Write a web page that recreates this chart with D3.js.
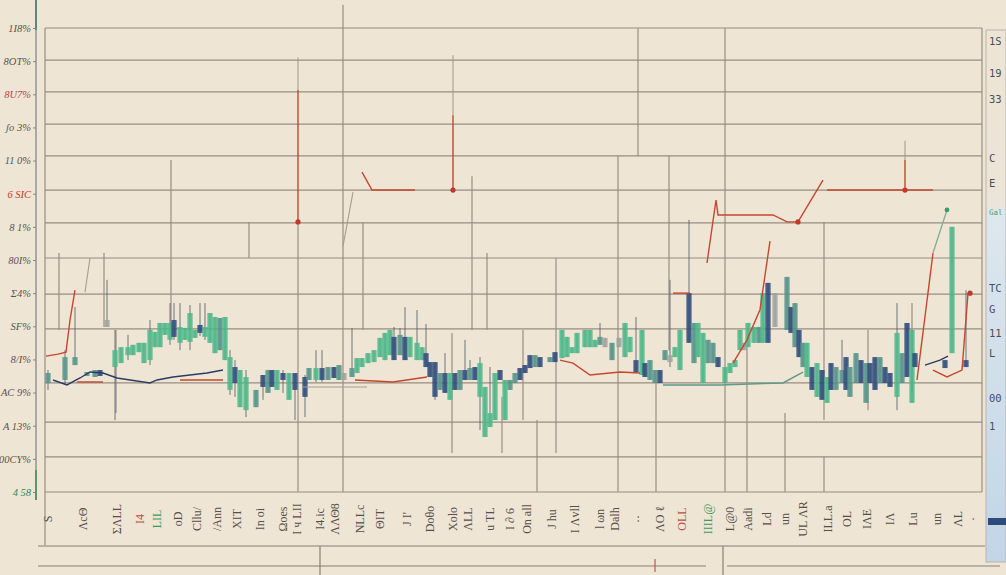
<!DOCTYPE html>
<html><head><meta charset="utf-8">
<script src="https://cdn.jsdelivr.net/npm/d3@7"></script>
<style>html,body{margin:0;padding:0;background:#efe5d4;overflow:hidden}</style>
</head><body><svg id="c" width="1006" height="575"></svg>
<script>
// ---------------- data ----------------
// y tick labels, top to bottom
const yTickLabels = ["1I8%","8OT%","8U7%","ʃo 3%","11 0%","6 SIC","8 1%","80I%","Σ4%","SF%","8/I%","AC 9%","A 13%","00CY%","4 58"];
const yTickValues = [0,10,20,30,40,50,60,70,80,90,100,110,120,130,140];
// horizontal gridlines (value units)
const gridValues = [0,10.6,21.1,32.9,49.2,59.7,70.6,81.2,91.1,101.4,111.0,120.7,130.3,140];
// partial vertical rules: [day, top value, bottom value]
const vRules = [
 [2.8,72.1,48.9],[11.8,72.1,49.8],[14.2,48.9,23.8],[25.2,100.2,49.2],[40.8,81.5,70.6],
 [50.6,81.5,0],[59.6,147,0],[63.6,81.5,48.9],[81.4,48.0,11.8],[85.4,95.3,48.9],
 [88.4,72.1,48.9],[91.4,28.7,11.8],[95.6,48.9,21.7],[98.4,21.7,0],[102.2,70.6,11.8],
 [114.6,101.4,0],[118.6,140,101.4],[122.2,32.9,0],[124.8,101.4,42.8],[136,140,0],
 [140.4,43.7,0],[148,23.8,0],[155.8,81.5,21.7],[155.8,10.6,0],[164.6,48.9,24.7],[173.4,57.0,30.8]
];
// candles: [day, top, bottom, high, low, tone]
const candles = [
[0.6,35.9,32.9,36.8,30.8,'s'],[4,40.7,33.8,42.8,32.3,'s'],[6,40.7,38.3,55.8,38.3,'s'],
[8.4,36.2,35.0,36.2,35.0,'s'],[10,36.8,34.7,36.8,34.7,'s'],[11,36.8,35.0,36.8,35.0,'b'],
[12.4,51.9,49.8,64.0,49.8,'k'],[14,42.8,37.7,48.9,21.7,'g'],[15.2,43.7,38.9,43.7,38.9,'g'],
[16.6,43.7,41.3,47.4,39.8,'g'],[17.6,44.4,41.3,44.4,41.3,'g'],[18.8,45.0,42.2,45.0,42.2,'g'],
[19.8,45.0,38.9,45.0,38.9,'g'],[21,48.9,39.8,51.9,38.3,'g'],[22,48.3,43.7,48.3,43.7,'g'],
[23,51.0,43.7,51.0,43.7,'g'],[24,51.0,47.4,51.0,47.4,'g'],[25,51.0,45.9,57.0,44.4,'g'],
[25.8,51.9,46.8,57.0,45.9,'b'],[27,49.8,45.0,57.0,42.8,'g'],[28,49.5,45.9,49.5,45.9,'g'],
[29,54.0,45.3,56.4,42.8,'g'],[30,48.9,46.5,48.9,46.5,'g'],[31,50.4,48.0,57.0,47.1,'b'],
[32,49.8,46.8,57.0,45.9,'g'],[33,54.0,45.0,54.0,45.0,'g'],[34,52.8,41.9,52.8,41.9,'g'],
[35,52.5,42.8,52.5,42.8,'s'],[36,52.8,39.8,52.8,39.8,'g'],[37,40.7,30.8,42.8,29.3,'g'],
[38,37.7,32.9,39.8,28.7,'b'],[39,36.8,25.6,36.8,25.6,'g'],[40.2,34.7,24.7,36.8,22.6,'g'],
[42.2,30.8,25.6,30.8,25.6,'s'],[43.6,35.3,31.7,35.3,27.8,'b'],[44.6,36.8,29.9,36.8,29.9,'s'],
[45.4,36.8,31.7,36.8,31.7,'b'],[46.4,36.8,30.8,36.8,30.8,'g'],[47.6,35.9,33.8,36.8,29.9,'b'],
[48.8,35.9,27.8,35.9,27.8,'g'],[50,35.9,30.8,35.9,21.7,'b'],[52,34.7,28.7,35.3,22.6,'b'],
[52.8,37.4,33.8,37.4,33.8,'s'],[54.2,37.4,33.8,42.8,33.2,'g'],[55.4,37.4,33.8,42.8,33.2,'b'],
[56.6,37.7,33.8,37.7,33.8,'s'],[57.8,37.7,34.4,37.7,34.4,'b'],[58.8,38.3,33.8,38.3,33.8,'s'],
[59.8,35.9,33.8,35.9,33.8,'k'],[61.4,37.4,34.7,49.5,34.7,'s'],[62.4,40.4,35.9,40.4,35.9,'g'],
[63.4,40.4,37.7,40.4,37.7,'g'],[64.6,41.9,38.9,41.9,38.9,'g'],[65.8,42.8,39.2,42.8,39.2,'g'],
[67,46.5,40.7,46.5,40.7,'g'],[68,48.0,39.8,48.0,39.8,'g'],[69,48.9,41.3,48.9,41.3,'g'],
[69.8,46.8,39.8,49.8,39.8,'b'],[71,47.4,41.3,49.5,41.3,'s'],[72,46.8,39.8,55.8,39.8,'b'],
[73,46.8,40.7,46.8,40.7,'g'],[74.4,45.0,39.8,54.9,39.8,'g'],[75.4,43.7,39.8,43.7,39.8,'g'],
[76.2,41.9,37.7,50.7,37.7,'b'],[77,39.2,34.7,39.2,34.7,'b'],[78,39.2,28.7,39.2,27.8,'b'],
[79,35.9,30.8,35.9,30.8,'s'],[80,35.9,29.9,41.9,29.9,'b'],[81,35.9,27.8,35.9,27.8,'g'],
[82,35.9,30.8,35.9,30.8,'b'],[83,36.8,30.8,36.8,30.8,'s'],[84,36.8,33.8,45.9,33.8,'b'],
[85,37.4,33.8,39.8,33.8,'s'],[86,37.7,33.8,37.7,33.8,'b'],[87,38.9,28.7,40.7,18.7,'g'],
[88,31.7,16.6,31.7,16.6,'g'],[89,23.8,19.6,37.7,19.6,'g'],[90,35.9,21.7,35.9,21.7,'g'],
[91,36.8,33.8,36.8,33.8,'b'],[92,33.8,21.7,33.8,21.7,'g'],[93,33.8,30.8,33.8,30.8,'s'],
[94,35.9,32.9,35.9,32.9,'s'],[95,37.4,33.8,37.4,33.8,'b'],[96,38.3,35.9,38.3,35.9,'b'],
[97,41.3,37.4,41.3,37.4,'b'],[98,41.3,37.7,41.3,37.7,'s'],[99,40.7,37.7,40.7,37.7,'b'],
[101,40.7,39.2,40.7,39.2,'s'],[102,42.2,39.2,42.2,39.2,'b'],[103.4,48.9,40.4,48.9,40.4,'g'],
[104.4,46.8,40.7,46.8,40.7,'g'],[105.4,43.7,41.9,43.7,41.9,'g'],[106.4,48.0,41.9,48.0,41.9,'g'],
[108,48.9,43.7,48.9,43.7,'g'],[109,48.9,43.7,48.9,43.7,'g'],[110,45.9,43.7,45.9,43.7,'g'],
[111,46.8,44.4,51.0,44.4,'s'],[112,46.5,43.7,46.5,43.7,'k'],[113.4,45.0,39.8,45.0,39.8,'s'],
[114.8,46.5,43.7,46.5,43.7,'k'],[116,51.0,40.7,51.0,40.7,'g'],[117,46.8,42.2,46.8,42.2,'g'],
[118.2,39.8,36.2,52.8,36.2,'b'],[119.4,48.9,35.3,48.9,35.3,'g'],[120,38.9,34.7,38.9,34.7,'b'],
[121,39.8,33.8,39.8,33.8,'s'],[122,36.8,32.9,36.8,32.9,'s'],[123,36.8,32.9,36.8,32.9,'b'],
[124,42.8,39.8,42.8,39.8,'s'],[125,41.3,39.2,64.0,37.7,'k'],[126,43.7,40.7,43.7,40.7,'g'],
[127,48.9,36.8,48.9,36.8,'g'],[128.8,60.0,45.0,82.1,45.0,'b'],[129.8,51.0,38.9,51.0,38.9,'s'],
[130.6,51.0,40.7,51.0,40.7,'g'],[131.6,48.0,32.9,48.0,32.9,'g'],[132.6,45.9,38.9,45.9,38.9,'s'],
[133.6,45.0,38.9,45.0,38.9,'s'],[134.6,40.7,37.7,40.7,37.7,'b'],[136,37.7,32.9,37.7,32.9,'g'],
[137,38.9,35.9,38.9,35.9,'g'],[138,39.8,37.7,39.8,37.7,'g'],[139,48.9,42.8,48.9,42.8,'g'],
[139.8,45.0,42.8,45.0,42.8,'k'],[140.6,51.0,43.7,51.0,43.7,'g'],[141.8,49.8,45.0,49.8,45.0,'g'],
[142.8,49.8,45.0,49.8,45.0,'s'],[143.6,60.0,45.0,60.0,45.0,'g'],[144.6,63.1,45.0,63.1,45.0,'b'],
[146,60.0,49.8,60.0,49.8,'k'],[148.4,64.9,48.9,64.9,48.9,'s'],[149.2,55.8,48.0,55.8,48.0,'b'],
[150,57.0,43.7,57.0,43.7,'s'],[150.8,48.9,40.7,48.9,40.7,'b'],[151.6,45.0,37.7,45.0,37.7,'s'],
[152.4,45.0,34.7,45.0,34.7,'g'],[153.4,37.7,30.8,37.7,30.8,'b'],[154.4,38.9,28.7,38.9,28.7,'g'],
[155.4,36.8,27.8,36.8,27.8,'b'],[156.4,34.7,26.9,34.7,26.9,'g'],[157.2,38.9,30.8,38.9,30.8,'b'],
[158.2,37.7,30.8,37.7,30.8,'s'],[159.4,36.8,32.9,45.9,32.9,'s'],[160.2,40.7,30.8,40.7,30.8,'b'],
[161,37.7,28.7,37.7,28.7,'s'],[162.2,41.9,32.9,41.9,32.9,'s'],[163.2,39.8,32.9,39.8,32.9,'b'],
[164.2,38.9,26.9,38.9,26.9,'s'],[165,38.9,32.9,38.9,32.9,'b'],[166,40.7,30.8,40.7,30.8,'b'],
[167,40.7,32.9,40.7,32.9,'s'],[168,37.7,32.9,37.7,32.9,'b'],[169,35.9,31.7,35.9,31.7,'b'],
[170.4,48.0,28.7,57.0,24.7,'g'],[171.4,41.9,32.9,41.9,32.9,'s'],[172.4,51.0,34.7,51.0,34.7,'b'],
[173.4,48.9,26.9,48.9,26.9,'g'],[174,41.9,37.7,41.9,37.7,'b'],[180,39.8,37.4,39.8,37.4,'b'],
[181.4,80.0,41.9,80.0,41.9,'g'],[184.2,39.8,37.7,60.9,37.7,'b']
];
// overlay lines: [day, value]
const redLines = [
 [[0.2,41.0],[2.6,41.6],[4.2,42.2],[5,51.9],[6,60.9]],
 [[6.4,33.2],[11.6,33.2]],
 [[27,33.8],[35.6,33.8]],
 [[62,33.8],[69.6,33.2],[76.4,34.7]],
 [[103,39.8],[105.6,38.9],[109,35.3],[115,36.2],[119,35.9]],
 [[50.6,121.3],[50.6,81.5]],
 [[81.6,113.7],[81.6,91.1]],
 [[63.4,96.5],[65.4,91.1],[74,91.1]],
 [[132.4,69.1],[134.2,88.1],[134.6,83.6],[145.6,83.6],[148.4,81.5],[150.6,81.5],[155.6,94.1]],
 [[156.4,91.1],[177.6,91.1]],
 [[172,100.2],[172,91.1]],
 [[174.4,33.8],[177.6,72.1]],
 [[177.6,36.8],[180.4,34.7],[183.4,36.8],[184.6,60.0]],
 [[125.6,60.0],[129,60.0]],
 [[137.6,38.9],[140.4,45.9],[143,55.0],[145,75.7]]
];
const faintLines = [
 [[8,60.3],[9,70.6]],
 [[59.6,74.2],[61.6,90.5]],
 [[81.6,131.8],[81.6,113.7]],
 [[50.6,131.1],[50.6,121.3]],
 [[51.6,31.7],[64.4,31.7]],
 [[172,106.0],[172,100.2]]
];
const greenLine = [[177.6,72.1],[180.4,85.1]];
const navyLines = [
 [[1.6,33.8],[4.4,32.3],[7,34.4],[9,36.2],[11.6,35.9],[14.4,34.4],[21,32.9],[22.4,33.8],[25.6,34.7],[32.4,35.9],[35.6,36.8]],
 [[176,38.3],[179,39.8],[180.6,41.0]]
];
const tealLine = [[123.6,32.3],[135,32.3],[147.6,32.9],[151.6,36.2]];
const redDots = [[50.6,81.5],[81.6,91.1],[150.6,81.5],[172,91.1],[185,60.0]];
const greenDots = [[180.4,85.1]];
// x-axis (rotated) labels
const xLabelDays = [0.6,7.6,14.4,19,22.4,26.6,30.4,34.4,38.4,43,47.6,50.4,55,58,63,67,72.4,77,81.6,84.6,89,93,96.4,101.4,106,111,114,118.6,123,127.4,132.6,137,140.6,144.4,148,151.6,156.6,160.4,164.4,169,173.6,178.4,182.6,185.6];
const xLabels = ["S","ΛcΘ","ΣΛLL","I4","LIL","oD","Cllu/","/Ann","XIT","In oi","Ωoes","I ч LII","I4.ic","ΛΛΘ8","NLLc","ΘIT","J I'","Doθo","Xolo","ΛLL","u TL","I ∂ 6","On all","J hu","I Λvll","l ωn","Dalh","··","ΛO ℓ","OLL","IIIL@","L@0","Aadi","Ld","un","UL ΛR","ILL.a","OL","IΛE","IΛ","Lu","un","ΛL","·"];
// side panel texts
const sideTexts = ["1S","19","33","C","E","Gal","TC","G","11","L","00","1"];

// ---------------- styles ----------------
const tone = {g:"#4cb98b", s:"#55958b", b:"#2c4a7c", k:"#9fa59e"};
const yAccent = {2:"#b0484a", 5:"#c0392b", 14:"#2e8a57"};
const xAccent = {3:"#b5524a", 4:"#3f9a5f", 30:"#3f9a5f", 29:"#b5524a"};
const sideY = [45,77,103,162,187,215,292,313,337,357,402,430];

// ---------------- drawing ----------------
const svg = d3.select('#c');
const x = d3.scaleLinear().domain([0,185]).range([45,970]);
const y = d3.scaleLinear().domain([0,140]).range([492,28]);
const xRight = 982;

svg.append('rect').attr('width',1006).attr('height',575).attr('fill','#efe5d4');

// side panel
const defs = svg.append('defs');
const lg = defs.append('linearGradient').attr('id','sp').attr('x1',0).attr('y1',0).attr('x2',0).attr('y2',1);
lg.append('stop').attr('offset','0%').attr('stop-color','#eee4d4');
lg.append('stop').attr('offset','33%').attr('stop-color','#ece4d8');
lg.append('stop').attr('offset','34%').attr('stop-color','#dde7ee');
lg.append('stop').attr('offset','100%').attr('stop-color','#c2d5e6');
svg.append('rect').attr('x',986).attr('y',30).attr('width',20).attr('height',532).attr('fill','url(#sp)').attr('stroke','#b9b4ac').attr('stroke-width',1);
svg.append('rect').attr('x',988).attr('y',518).attr('width',18).attr('height',7).attr('fill','#2c4a7a');
svg.append('g').selectAll('text').data(sideTexts).join('text')
  .attr('x',989).attr('y',(d,i)=>sideY[i])
  .attr('font-family','DejaVu Sans Mono').attr('font-size',(d)=>d.length>2?7.5:10.5)
  .attr('fill',(d,i)=>i===5?'#4e9a6e':'#4a4f5a').text(d=>d);

// gridlines
const grid = svg.append('g').attr('stroke','#8a7e76').attr('stroke-width',1.2).attr('opacity',0.85);
grid.selectAll('line.h').data(gridValues).join('line').attr('class','h')
  .attr('x1',x(0)).attr('x2',xRight).attr('y1',d=>y(d)).attr('y2',d=>y(d));
grid.selectAll('line.v').data(vRules).join('line').attr('class','v')
  .attr('x1',d=>x(d[0])).attr('x2',d=>x(d[0])).attr('y1',d=>y(d[1])).attr('y2',d=>y(d[2]));
grid.append('line').attr('x1',x(0)).attr('x2',x(0)).attr('y1',y(140)).attr('y2',545);
grid.append('line').attr('x1',xRight).attr('x2',xRight).attr('y1',y(140)).attr('y2',y(0));

// bottom band rules
const band = svg.append('g').attr('stroke','#8a7e76').attr('stroke-width',1.2);
band.append('line').attr('x1',38).attr('x2',985).attr('y1',546).attr('y2',546);
band.append('line').attr('x1',38).attr('x2',706).attr('y1',566).attr('y2',566);
band.append('line').attr('x1',727).attr('x2',1000).attr('y1',566).attr('y2',566);
band.append('line').attr('x1',320).attr('x2',320).attr('y1',546).attr('y2',575);
band.append('line').attr('x1',723).attr('x2',723).attr('y1',546).attr('y2',575);
svg.append('line').attr('x1',655).attr('x2',655).attr('y1',559).attr('y2',572).attr('stroke','#c0564a').attr('stroke-width',1.2);

// left axis
svg.append('line').attr('x1',36).attr('x2',36).attr('y1',0).attr('y2',500).attr('stroke','#7f8a84').attr('stroke-width',1.3);
svg.append('line').attr('x1',36).attr('x2',36).attr('y1',0).attr('y2',30).attr('stroke','#3b7a68').attr('stroke-width',1.4);
svg.append('line').attr('x1',36).attr('x2',36).attr('y1',470).attr('y2',500).attr('stroke','#3b8a5a').attr('stroke-width',1.4);
const yAxis = d3.axisLeft(y).tickValues(yTickValues).tickSize(3).tickPadding(2)
  .tickFormat((d,i)=>yTickLabels[yTickLabels.length-1-i]);
const ya = svg.append('g').attr('transform','translate(36,0)').call(yAxis);
ya.select('.domain').remove();
ya.selectAll('line').attr('stroke','#8a8a80');
ya.selectAll('text').attr('font-family','Liberation Serif').attr('font-size',10.5).attr('font-style','italic')
  .attr('fill',(d,i)=>yAccent[yTickLabels.length-1-i]||'#5a5450');

// x labels rotated
svg.append('g').selectAll('text').data(xLabels).join('text')
  .attr('transform',(d,i)=>`translate(${x(xLabelDays[i])+4},519) rotate(-90)`)
  .attr('text-anchor','middle')
  .attr('font-family','Liberation Serif').attr('font-size',12)
  .attr('fill',(d,i)=>xAccent[i]||'#55504c').text(d=>d);

// candles
const cw = (x(1)-x(0))*1.05;
const cg = svg.append('g');
cg.selectAll('line').data(candles).join('line')
  .attr('x1',d=>x(d[0])).attr('x2',d=>x(d[0]))
  .attr('y1',d=>y(d[3])).attr('y2',d=>y(d[4]))
  .attr('stroke','#4d5a66').attr('stroke-width',1).attr('opacity',0.8);
cg.selectAll('rect').data(candles).join('rect')
  .attr('x',d=>x(d[0])-cw/2).attr('width',cw)
  .attr('y',d=>y(d[1])).attr('height',d=>Math.max(1.5,y(d[2])-y(d[1])))
  .attr('fill',d=>tone[d[5]]).attr('opacity',0.86);

// overlay lines
const line = d3.line().x(d=>x(d[0])).y(d=>y(d[1]));
const ov = svg.append('g').attr('fill','none');
ov.selectAll('path.f').data(faintLines).join('path').attr('class','f').attr('d',line)
  .attr('stroke','#a89c92').attr('stroke-width',1.1);
ov.selectAll('path.n').data(navyLines).join('path').attr('class','n').attr('d',line)
  .attr('stroke','#2b3c62').attr('stroke-width',1.4);
ov.append('path').datum(tealLine).attr('d',line).attr('stroke','#5e9c88').attr('stroke-width',1.4);
ov.selectAll('path.r').data(redLines).join('path').attr('class','r').attr('d',line)
  .attr('stroke','#c4472f').attr('stroke-width',1.4);
ov.append('path').datum(greenLine).attr('d',line).attr('stroke','#7fae96').attr('stroke-width',1.3);
svg.append('g').selectAll('circle').data(redDots).join('circle')
  .attr('cx',d=>x(d[0])).attr('cy',d=>y(d[1])).attr('r',2.6).attr('fill','#c0392b');
svg.append('g').selectAll('circle').data(greenDots).join('circle')
  .attr('cx',d=>x(d[0])).attr('cy',d=>y(d[1])).attr('r',2.4).attr('fill','#3f9a6a');
</script></body></html>
